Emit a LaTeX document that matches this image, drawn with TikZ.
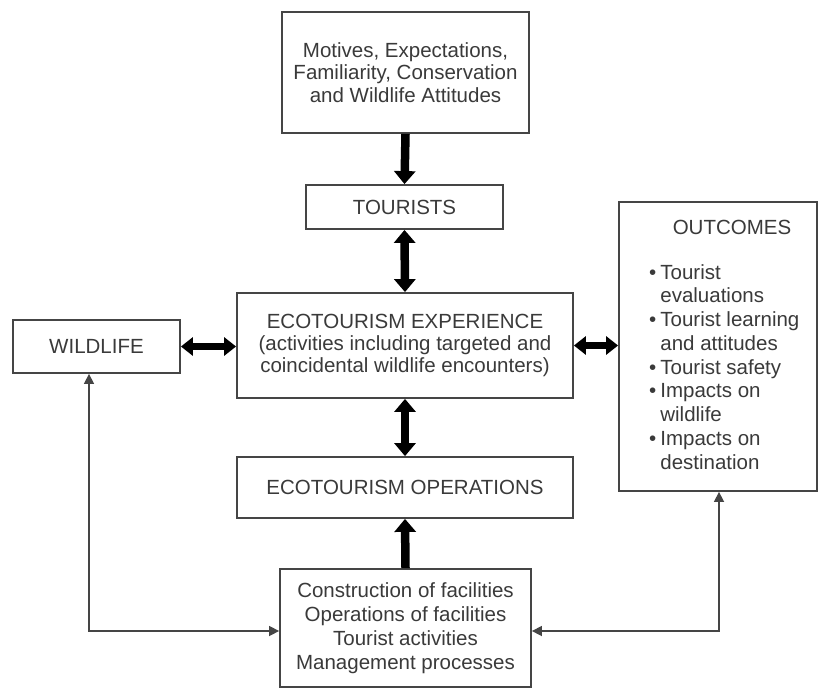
\documentclass[tikz,border=0pt]{standalone}
\usepackage{fontspec}
\setmainfont{Liberation Sans}
\usetikzlibrary{arrows.meta}
\definecolor{txt}{HTML}{3A3A3A}
\definecolor{edge}{HTML}{454545}
\begin{document}
\begin{tikzpicture}[x=1pt,y=-1pt,
  box/.style={draw=edge,line width=1.8pt,fill=white,text=txt,align=center,inner sep=0pt},
  bigv/.style={line width=8.5pt,black},
  bigvtip/.style={Triangle[width=21pt,length=13pt]},
  bigh/.style={line width=7pt,black},
  bighip/.style={Triangle[width=18pt,length=12pt]},
  thinlink/.style={draw=edge,line width=1.5pt,{Triangle[width=10pt,length=10pt]}-{Triangle[width=10pt,length=10pt]}}
]
\fill[white] (0,0) rectangle (818,688);
\useasboundingbox (0,0) rectangle (818,688);

\node[box,minimum width=247pt,minimum height=121pt,font=\fontsize{20.5pt}{22.5pt}\selectfont] (top) at (405.5,72.5)
  {Motives, Expectations,\\Familiarity, Conservation\\and Wildlife Attitudes};
\node[box,minimum width=197pt,minimum height=44pt,font=\fontsize{20.5pt}{22pt}\selectfont] (tour) at (404.5,207) {TOURISTS};
\node[box,minimum width=336pt,minimum height=105pt,font=\fontsize{20.5pt}{22pt}\selectfont] (exp) at (405,345.5)
  {ECOTOURISM EXPERIENCE\\(activities including targeted and\\coincidental wildlife encounters)};
\node[box,minimum width=167pt,minimum height=53pt,font=\fontsize{20.5pt}{22pt}\selectfont] (wild) at (96.5,346.5) {WILDLIFE};
\node[box,minimum width=198pt,minimum height=289pt] (outc) at (718,346.5) {};
\node[text=txt,font=\fontsize{20.5pt}{22pt}\selectfont,inner sep=0pt] (otitle) at (732,227) {OUTCOMES};
\node[text=txt,font=\fontsize{20.5pt}{23.75pt}\selectfont,inner sep=0pt,anchor=base west] (olist) at (649,279)
  {\begin{tabular}[t]{@{}l@{\hspace{4pt}}l@{}}
   • & Tourist\\
     & evaluations\\
   • & Tourist learning\\
     & and attitudes\\
   • & Tourist safety\\
   • & Impacts on\\
     & wildlife\\
   • & Impacts on\\
     & destination
   \end{tabular}};
\node[box,minimum width=336pt,minimum height=61pt,font=\fontsize{20.5pt}{22pt}\selectfont] (ops) at (405,487.5) {ECOTOURISM OPERATIONS};
\node[box,minimum width=251pt,minimum height=118pt,font=\fontsize{20.5pt}{24pt}\selectfont] (bot) at (405.5,628)
  {Construction of facilities\\Operations of facilities\\Tourist activities\\Management processes};

% thick connectors
\draw[bigv,-{Triangle[width=21pt,length=13pt]}] (top.south) -- (tour.north);
\draw[bigv,{Triangle[width=21pt,length=13pt]}-{Triangle[width=21pt,length=13pt]}] (tour.south) -- (exp.north);
\draw[bigv,{Triangle[width=21pt,length=13pt]}-{Triangle[width=21pt,length=13pt]}] (exp.south) -- (ops.north);
\draw[bigv,-{Triangle[width=21pt,length=13pt]}] (bot.north) -- (ops.south);
\draw[bigh,{Triangle[width=18pt,length=12pt]}-{Triangle[width=18pt,length=12pt]}] (wild.east) -- (wild.east -| exp.west);
\draw[bigh,{Triangle[width=18pt,length=12pt]}-{Triangle[width=18pt,length=12pt]}] (exp.east) -- (exp.east -| outc.west);

% thin connectors
\coordinate (L) at (89,631);
\coordinate (R) at (719,631);
\draw[thinlink] (wild.south -| L) -- (L) -- (L -| bot.west);
\draw[thinlink] (outc.south -| R) -- (R) -- (R -| bot.east);
\end{tikzpicture}
\end{document}
